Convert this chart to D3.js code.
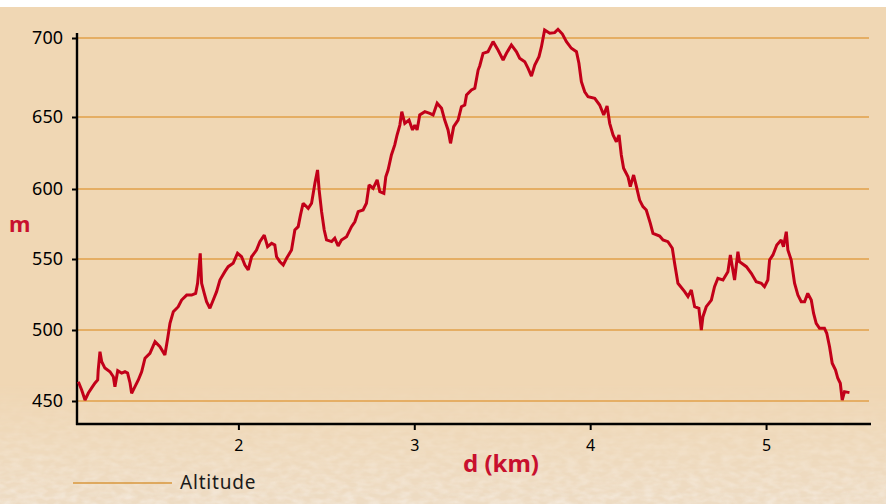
<!DOCTYPE html>
<html>
<head>
<meta charset="utf-8">
<script src="https://cdn.jsdelivr.net/npm/d3@7"></script>
<style>
  html, body { margin: 0; padding: 0; background: #fff; }
  svg { display: block; font-family: "Noto Sans", "Open Sans", sans-serif; }
</style>
</head>
<body>
<div id="chart"></div>
<script>
// distance along the track (km)
const distKm = [
  1.090, 1.109, 1.128, 1.147, 1.166, 1.185, 1.200, 1.203, 1.213, 1.223,
  1.241, 1.270, 1.289, 1.298, 1.314, 1.336, 1.355, 1.370, 1.384, 1.393,
  1.412, 1.431, 1.450, 1.469, 1.497, 1.526, 1.554, 1.582, 1.598, 1.611,
  1.630, 1.658, 1.677, 1.706, 1.734, 1.757, 1.768, 1.783, 1.791, 1.806,
  1.819, 1.838, 1.857, 1.876, 1.895, 1.923, 1.942, 1.970, 1.995, 2.018,
  2.037, 2.056, 2.075, 2.103, 2.122, 2.147, 2.166, 2.189, 2.207, 2.217,
  2.236, 2.255, 2.274, 2.302, 2.321, 2.340, 2.353, 2.368, 2.397, 2.416,
  2.435, 2.450, 2.459, 2.473, 2.488, 2.501, 2.530, 2.548, 2.567, 2.586,
  2.615, 2.643, 2.662, 2.681, 2.709, 2.728, 2.743, 2.766, 2.789, 2.804,
  2.827, 2.838, 2.851, 2.870, 2.889, 2.902, 2.918, 2.929, 2.946, 2.970,
  2.990, 3.003, 3.016, 3.031, 3.060, 3.088, 3.107, 3.130, 3.155, 3.173,
  3.192, 3.206, 3.224, 3.249, 3.268, 3.287, 3.297, 3.325, 3.344, 3.363,
  3.372, 3.391, 3.419, 3.448, 3.476, 3.505, 3.524, 3.552, 3.581, 3.599,
  3.628, 3.647, 3.666, 3.685, 3.709, 3.723, 3.741, 3.770, 3.798, 3.817,
  3.842, 3.865, 3.893, 3.922, 3.936, 3.950, 3.969, 3.988, 4.026, 4.054,
  4.077, 4.096, 4.111, 4.130, 4.149, 4.164, 4.177, 4.190, 4.215, 4.228,
  4.247, 4.263, 4.281, 4.300, 4.319, 4.342, 4.357, 4.395, 4.414, 4.442,
  4.467, 4.480, 4.499, 4.537, 4.556, 4.575, 4.594, 4.618, 4.632, 4.641,
  4.660, 4.689, 4.707, 4.726, 4.755, 4.783, 4.797, 4.808, 4.821, 4.840,
  4.849, 4.888, 4.916, 4.944, 4.973, 4.991, 5.010, 5.020, 5.039, 5.061,
  5.086, 5.099, 5.115, 5.124, 5.143, 5.162, 5.181, 5.200, 5.219, 5.237,
  5.257, 5.270, 5.285, 5.304, 5.332, 5.345, 5.361, 5.376, 5.395, 5.408,
  5.422, 5.433, 5.446, 5.474
];

// altitude (m)
const altitudeM = [
  463.6, 457.7, 450.7, 455.6, 459.2, 462.7, 464.8, 471.8, 484.7, 477.7,
  473.2, 470.6, 467.1, 460.1, 471.3, 469.7, 470.6, 469.7, 462.7, 455.4,
  460.1, 464.8, 470.6, 480.1, 483.6, 491.8, 488.2, 482.4, 494.2, 504.7,
  512.9, 516.4, 521.1, 524.6, 524.6, 525.8, 532.9, 554.1, 532.9, 525.8,
  519.9, 515.3, 521.1, 527.0, 535.2, 541.1, 544.6, 547.0, 554.1, 551.6,
  545.8, 542.3, 551.6, 556.4, 562.4, 567.1, 558.8, 561.2, 560.0, 551.6,
  548.1, 545.8, 550.5, 556.4, 570.7, 573.1, 581.4, 589.8, 586.2, 589.8,
  604.0, 613.2, 599.3, 583.8, 570.7, 563.6, 562.4, 564.8, 559.3, 563.6,
  565.9, 573.1, 576.6, 583.8, 585.0, 589.8, 602.8, 600.5, 606.3, 598.1,
  596.9, 608.5, 613.2, 623.6, 630.6, 637.5, 644.4, 653.4, 645.6, 647.9,
  641.0, 644.4, 641.0, 651.3, 653.4, 652.3, 651.3, 658.7, 655.5, 647.9,
  641.0, 631.7, 643.3, 647.9, 656.5, 657.6, 663.9, 667.1, 668.2, 679.7,
  682.3, 690.3, 691.3, 697.7, 692.4, 686.1, 690.3, 695.6, 691.3, 687.2,
  685.0, 680.8, 675.9, 682.9, 688.2, 694.5, 705.1, 703.0, 703.4, 705.5,
  702.5, 697.7, 693.5, 691.3, 684.0, 672.3, 666.0, 662.8, 661.8, 657.6,
  651.3, 657.0, 645.6, 637.5, 632.8, 637.5, 623.6, 614.4, 608.5, 601.6,
  609.7, 601.6, 592.1, 587.4, 585.0, 575.5, 568.3, 566.4, 563.6, 562.4,
  557.7, 547.0, 532.9, 527.0, 523.5, 528.2, 516.4, 515.3, 500.0, 509.4,
  516.4, 521.1, 530.5, 536.4, 535.2, 541.1, 552.9, 544.6, 535.2, 555.2,
  548.1, 544.6, 539.9, 534.0, 532.9, 530.5, 535.2, 549.3, 552.9, 560.0,
  563.6, 558.8, 569.5, 556.4, 549.3, 532.9, 524.6, 519.9, 519.9, 525.8,
  521.1, 511.8, 504.7, 501.2, 501.2, 497.7, 488.2, 476.6, 471.8, 466.0,
  462.5, 450.7, 456.6, 455.9
];

const yTicks = [450, 500, 550, 600, 650, 700];
const xTicks = [2, 3, 4, 5];
const xLabel = "d (km)";
const yLabel = "m";
const seriesName = "Altitude";

const width = 886, height = 504;
const plot = { left: 77, right: 871, top: 33, bottom: 424, gridEnd: 869 };

const svg = d3.select("#chart").append("svg")
  .attr("width", width)
  .attr("height", height);

// background: tan panel, sandy texture toward the bottom
const defs = svg.append("defs");
const grad = defs.append("linearGradient")
  .attr("id", "fade").attr("x1", 0).attr("y1", 0).attr("x2", 0).attr("y2", 1);
grad.append("stop").attr("offset", "0.76").attr("stop-color", "#fff").attr("stop-opacity", 0);
grad.append("stop").attr("offset", "1").attr("stop-color", "#fff").attr("stop-opacity", 1);
const mask = defs.append("mask").attr("id", "sandMask");
mask.append("rect").attr("width", width).attr("height", height).attr("fill", "url(#fade)");

const filt = defs.append("filter").attr("id", "sand")
  .attr("x", 0).attr("y", 0).attr("width", "100%").attr("height", "100%");
filt.append("feTurbulence")
  .attr("type", "fractalNoise").attr("baseFrequency", "0.09 0.18")
  .attr("numOctaves", 2).attr("seed", 3).attr("result", "noise");
filt.append("feColorMatrix")
  .attr("type", "matrix")
  .attr("values", "0 0 0 0 0.93  0 0 0 0 0.87  0 0 0 0 0.80  0 0 0 1.4 -0.45");

svg.append("rect").attr("width", width).attr("height", height).attr("fill", "#fff");
svg.append("rect")
  .attr("x", 0).attr("y", 7).attr("width", width).attr("height", height - 7)
  .attr("fill", "#f0d7b4");
const sandLayer = svg.append("g").attr("mask", "url(#sandMask)");
sandLayer.append("rect")
  .attr("x", 0).attr("y", 7).attr("width", width).attr("height", height - 7)
  .attr("fill", "#eddbc3");
sandLayer.append("rect")
  .attr("x", 0).attr("y", 7).attr("width", width).attr("height", height - 7)
  .attr("filter", "url(#sand)").attr("opacity", 0.8);

// scales (the source chart's y spacing is slightly uneven, so it is piecewise)
const x = d3.scaleLinear()
  .domain([1.0824, 5.5966])
  .range([plot.left, plot.right]);

const y = d3.scaleLinear()
  .domain(yTicks)
  .range([401, 330, 259, 189, 117, 38]);

// gridlines
svg.append("g")
  .selectAll("line")
  .data(yTicks)
  .join("line")
  .attr("x1", plot.left).attr("x2", plot.gridEnd)
  .attr("y1", d => y(d)).attr("y2", d => y(d))
  .attr("stroke", "#e2a04a")
  .attr("stroke-width", 1.6);

// y axis
const yAxis = svg.append("g")
  .attr("transform", `translate(${plot.left},0)`)
  .call(d3.axisLeft(y).tickValues(yTicks).tickSize(5).tickPadding(9));
yAxis.select(".domain").remove();
yAxis.selectAll(".tick line").attr("stroke", "#000").attr("stroke-width", 2);
yAxis.selectAll(".tick text")
  .attr("fill", "#000")
  .style("font-size", "18px")
  .style("font-family", "'Noto Sans', sans-serif");

// x axis
const xAxis = svg.append("g")
  .attr("transform", `translate(0,${plot.bottom})`)
  .call(d3.axisBottom(x).tickValues(xTicks).tickFormat(d3.format("d")).tickSize(6).tickPadding(10));
xAxis.select(".domain").remove();
xAxis.selectAll(".tick line").attr("stroke", "#000").attr("stroke-width", 2);
xAxis.selectAll(".tick text")
  .attr("fill", "#000")
  .style("font-size", "16px")
  .style("font-family", "'Noto Sans', sans-serif");

// axis spines
svg.append("line")
  .attr("x1", plot.left).attr("x2", plot.left)
  .attr("y1", plot.top).attr("y2", plot.bottom + 1)
  .attr("stroke", "#000").attr("stroke-width", 2.4);
svg.append("line")
  .attr("x1", plot.left - 1).attr("x2", plot.right)
  .attr("y1", plot.bottom).attr("y2", plot.bottom)
  .attr("stroke", "#000").attr("stroke-width", 2.4);

// altitude profile
const points = distKm.map((d, i) => [d, altitudeM[i]]);
const line = d3.line()
  .x(d => x(d[0]))
  .y(d => y(d[1]))
  .curve(d3.curveLinear);

svg.append("path")
  .datum(points)
  .attr("d", line)
  .attr("fill", "none")
  .attr("stroke", "#c20019")
  .attr("stroke-width", 3)
  .attr("stroke-linejoin", "miter")
  .attr("stroke-miterlimit", 2);

// axis titles
svg.append("text")
  .attr("x", 9).attr("y", 232)
  .attr("fill", "#c8102e")
  .style("font-size", "22px")
  .style("font-weight", "bold")
  .text(yLabel);

svg.append("text")
  .attr("x", 463).attr("y", 472)
  .attr("fill", "#c8102e")
  .style("font-size", "24px")
  .style("font-weight", "bold")
  .text(xLabel);

// legend
svg.append("line")
  .attr("x1", 73).attr("x2", 172)
  .attr("y1", 483).attr("y2", 483)
  .attr("stroke", "#d9973c").attr("stroke-width", 1.4);
svg.append("text")
  .attr("x", 180).attr("y", 489)
  .attr("fill", "#1a1a1a")
  .style("font-size", "19px")
  .style("letter-spacing", "0.8px")
  .text(seriesName);
</script>
</body>
</html>
